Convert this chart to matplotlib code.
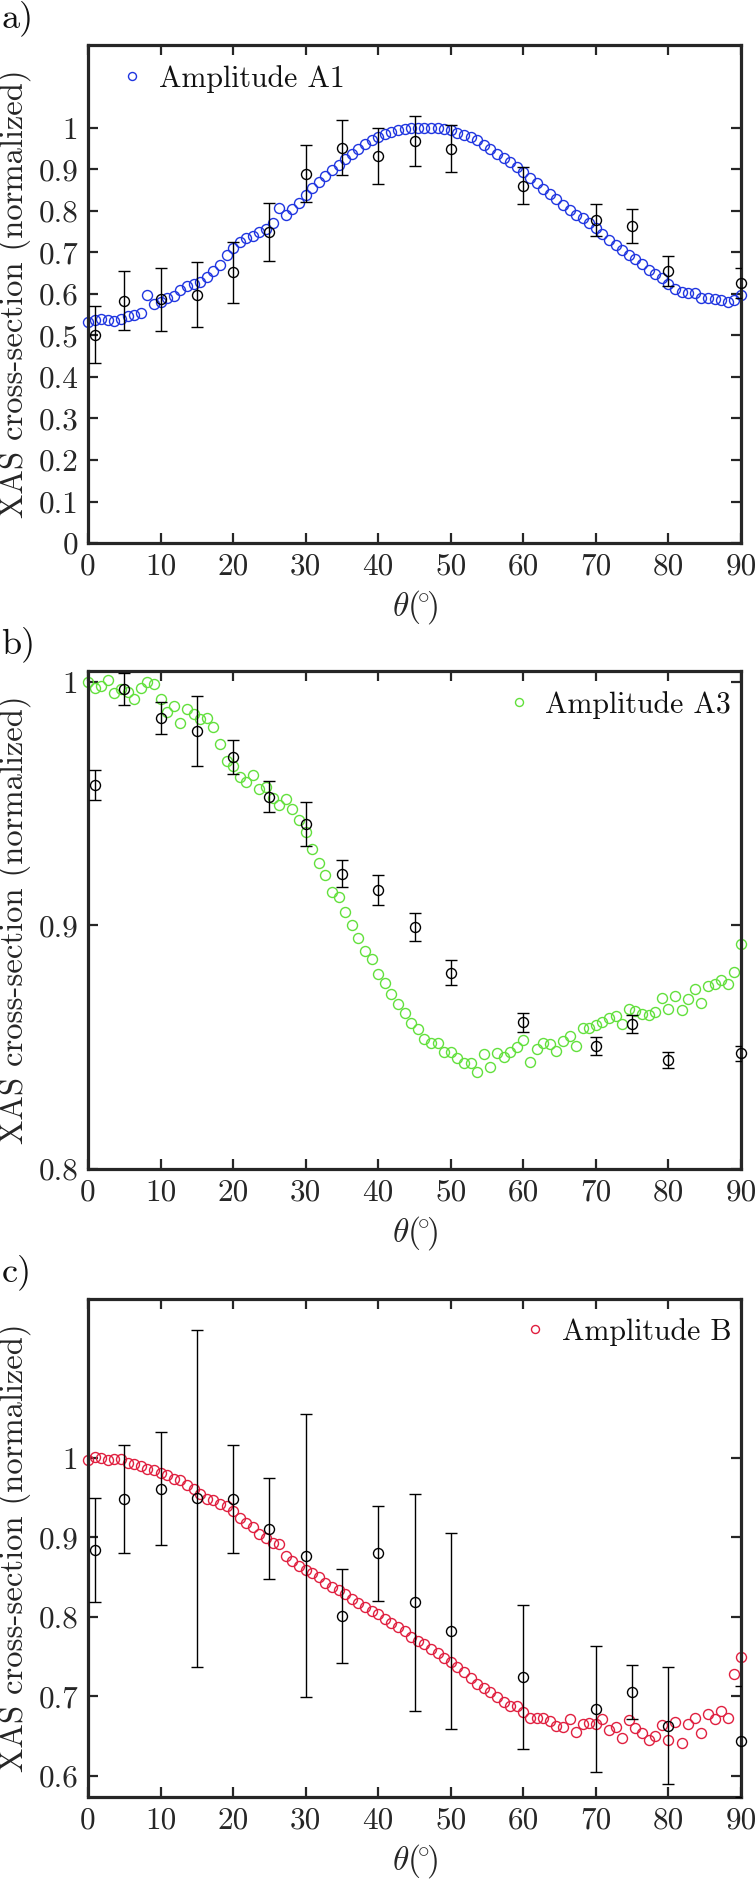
import numpy as np
import matplotlib
matplotlib.use("Agg")
import matplotlib.pyplot as plt

plt.rcParams['font.family'] = ['cmr10', 'DejaVu Serif']
plt.rcParams['mathtext.fontset'] = 'cm'
plt.rcParams['axes.formatter.use_mathtext'] = True

# ---------------- data ----------------
theta_fit = np.linspace(0, 90, 100)
theta_exp = [1, 5, 10, 15, 20, 25, 30, 35, 40, 45, 50, 60, 70, 75, 80, 90]

amp_A1 = [0.533, 0.538, 0.540, 0.537, 0.536, 0.540, 0.546, 0.549, 0.554, 0.597,
          0.576, 0.580, 0.590, 0.596, 0.610, 0.619, 0.623, 0.630, 0.642, 0.656,
          0.670, 0.695, 0.711, 0.726, 0.735, 0.740, 0.749, 0.756, 0.772, 0.807,
          0.791, 0.805, 0.819, 0.839, 0.855, 0.869, 0.884, 0.898, 0.911, 0.925,
          0.938, 0.949, 0.961, 0.971, 0.979, 0.986, 0.991, 0.994, 0.997, 0.999,
          1.000, 1.000, 1.000, 0.999, 0.997, 0.994, 0.989, 0.984, 0.978, 0.970,
          0.960, 0.949, 0.938, 0.928, 0.917, 0.905, 0.893, 0.880, 0.867, 0.854,
          0.840, 0.828, 0.815, 0.802, 0.790, 0.783, 0.770, 0.758, 0.744, 0.731,
          0.717, 0.705, 0.695, 0.684, 0.672, 0.658, 0.648, 0.639, 0.624, 0.612,
          0.606, 0.603, 0.603, 0.591, 0.590, 0.587, 0.585, 0.581, 0.585, 0.598]
exp_A1 = [0.502, 0.584, 0.587, 0.598, 0.652, 0.749, 0.890, 0.953, 0.932, 0.968,
          0.950, 0.861, 0.778, 0.765, 0.655, 0.627]
err_A1 = [0.068, 0.071, 0.075, 0.078, 0.074, 0.070, 0.068, 0.066, 0.068, 0.060,
          0.057, 0.044, 0.039, 0.041, 0.036, 0.036]

amp_A3 = [1.000, 0.9977, 0.9982, 1.0007, 0.9955, 0.9973, 0.9960, 0.9932, 0.9977, 1.0000,
          0.9990, 0.9932, 0.9875, 0.9900, 0.9833, 0.9891, 0.9868, 0.9846, 0.9854, 0.9817,
          0.9745, 0.9674, 0.9653, 0.9611, 0.9590, 0.9617, 0.9559, 0.9567, 0.9522, 0.9495,
          0.9519, 0.9477, 0.9433, 0.9385, 0.9313, 0.9258, 0.9208, 0.9136, 0.9119, 0.9055,
          0.9000, 0.8950, 0.8895, 0.8861, 0.8799, 0.8765, 0.8718, 0.8677, 0.8641, 0.8600,
          0.8573, 0.8532, 0.8516, 0.8516, 0.8482, 0.8482, 0.8454, 0.8437, 0.8434, 0.8397,
          0.8472, 0.8420, 0.8475, 0.8458, 0.8482, 0.8502, 0.8529, 0.8441, 0.8491, 0.8518,
          0.8513, 0.8486, 0.8527, 0.8546, 0.8506, 0.8581, 0.8577, 0.8591, 0.8604, 0.8622,
          0.8628, 0.8595, 0.8659, 0.8649, 0.8638, 0.8632, 0.8645, 0.8704, 0.8655, 0.8709,
          0.8652, 0.8700, 0.8741, 0.8682, 0.8750, 0.8759, 0.8775, 0.8759, 0.8809, 0.8925]
exp_A3 = [0.9577, 0.9970, 0.9852, 0.9798, 0.9693, 0.9529, 0.9417, 0.9212, 0.9146, 0.8993,
          0.8806, 0.8602, 0.8506, 0.8595, 0.8447, 0.8475]
err_A3 = [0.0060, 0.0065, 0.0067, 0.0145, 0.0070, 0.0065, 0.0090, 0.0055, 0.0060, 0.0057,
          0.0052, 0.0040, 0.0036, 0.0037, 0.0032, 0.0032]

amp_B = [0.997, 1.001, 1.000, 0.997, 0.999, 0.998, 0.993, 0.992, 0.990, 0.986,
         0.985, 0.981, 0.979, 0.973, 0.972, 0.966, 0.961, 0.954, 0.948, 0.947,
         0.942, 0.939, 0.933, 0.924, 0.918, 0.913, 0.904, 0.899, 0.893, 0.892,
         0.876, 0.870, 0.864, 0.859, 0.855, 0.850, 0.843, 0.838, 0.833, 0.829,
         0.822, 0.817, 0.812, 0.807, 0.803, 0.797, 0.792, 0.787, 0.782, 0.775,
         0.770, 0.766, 0.759, 0.754, 0.748, 0.743, 0.737, 0.730, 0.723, 0.715,
         0.710, 0.705, 0.699, 0.693, 0.688, 0.687, 0.680, 0.673, 0.673, 0.672,
         0.669, 0.663, 0.661, 0.671, 0.655, 0.665, 0.666, 0.665, 0.671, 0.657,
         0.661, 0.647, 0.670, 0.660, 0.653, 0.645, 0.650, 0.664, 0.645, 0.667,
         0.641, 0.665, 0.673, 0.653, 0.677, 0.671, 0.681, 0.673, 0.728, 0.749]
exp_B = [0.884, 0.948, 0.961, 0.949, 0.948, 0.911, 0.877, 0.801, 0.880, 0.818,
         0.782, 0.724, 0.684, 0.705, 0.663, 0.643]
err_B = [0.066, 0.068, 0.071, 0.212, 0.068, 0.064, 0.178, 0.059, 0.060, 0.137,
         0.123, 0.091, 0.079, 0.034, 0.074, 0.070]

xticks = [0, 10, 20, 30, 40, 50, 60, 70, 80, 90]
yticks_a = [0, 0.1, 0.2, 0.3, 0.4, 0.5, 0.6, 0.7, 0.8, 0.9, 1]
ytick_labels_a = ['0', '0.1', '0.2', '0.3', '0.4', '0.5', '0.6', '0.7', '0.8', '0.9', '1']
yticks_b = [0.8, 0.9, 1]
ytick_labels_b = ['0.8', '0.9', '1']
yticks_c = [0.6, 0.7, 0.8, 0.9, 1]
ytick_labels_c = ['0.6', '0.7', '0.8', '0.9', '1']

# ---------------- figure ----------------
W, H = 756, 1896
fig = plt.figure(figsize=(W / 100, H / 100), dpi=100)

axcol = '#262626'
left_px, right_px = 88, 741
panels = [
    dict(top=45, bottom=543, fit=amp_A1, exp=exp_A1, err=err_A1, color='#1f35e0',
         label='Amplitude A1', ylim=(0, 1.2), yt=yticks_a, ytl=ytick_labels_a,
         loc='center left', anchor=(0.045, 0.932), tag='a)'),
    dict(top=671, bottom=1169, fit=amp_A3, exp=exp_A3, err=err_A3, color='#62e03c',
         label='Amplitude A3', ylim=(0.8, 1.0045), yt=yticks_b, ytl=ytick_labels_b,
         loc='center right', anchor=(0.985, 0.932), tag='b)'),
    dict(top=1299, bottom=1797, fit=amp_B, exp=exp_B, err=err_B, color='#e01f3f',
         label='Amplitude B', ylim=(0.573, 1.2), yt=yticks_c, ytl=ytick_labels_c,
         loc='center right', anchor=(0.985, 0.934), tag='c)'),
]

for p in panels:
    ax = fig.add_axes([left_px / W, 1 - p['bottom'] / H,
                       (right_px - left_px) / W, (p['bottom'] - p['top']) / H])
    ax.plot(theta_fit, p['fit'], 'o', mfc='none', mec=p['color'], ms=7.2, mew=1.0,
            label=p['label'], clip_on=False, zorder=2)
    eb = ax.errorbar(theta_exp, p['exp'], yerr=p['err'], fmt='o', mfc='none',
                     mec='black', ecolor='black', ms=7.2, mew=1.0, elinewidth=1.0,
                     capsize=4, capthick=1.4, zorder=3)
    eb[0].set_clip_on(False)
    ax.set_xlim(0, 90)
    ax.set_ylim(*p['ylim'])
    ax.set_xticks(xticks)
    ax.set_xticklabels([str(t) for t in xticks])
    ax.set_yticks(p['yt'])
    ax.set_yticklabels(p['ytl'])
    ax.tick_params(direction='in', length=7, width=1.6, color=axcol, labelcolor=axcol,
                   labelsize=22.5, top=True, right=True, pad=7)
    for s in ax.spines.values():
        s.set_linewidth(2.3)
        s.set_color(axcol)
    ax.set_xlabel(r'$\theta(\!^{\circ}\!)$', fontsize=24, color=axcol, labelpad=5)
    ax.set_ylabel('XAS cross-section (normalized)', fontsize=23.5, color=axcol)
    ax.yaxis.set_label_coords(-0.088, 0.5)
    leg = ax.legend(loc=p['loc'], bbox_to_anchor=p['anchor'], frameon=False,
                    fontsize=21.5, handletextpad=0.4, markerscale=0.8,
                    handlelength=1.0, borderaxespad=0, borderpad=0)
    for t in leg.get_texts():
        t.set_color('#111111')
    fig.text(0.002, 1 - (p['top'] - 27) / H, p['tag'], fontsize=26, ha='left',
             va='center', color='#111111')

fig.savefig('out.png', dpi=100)
